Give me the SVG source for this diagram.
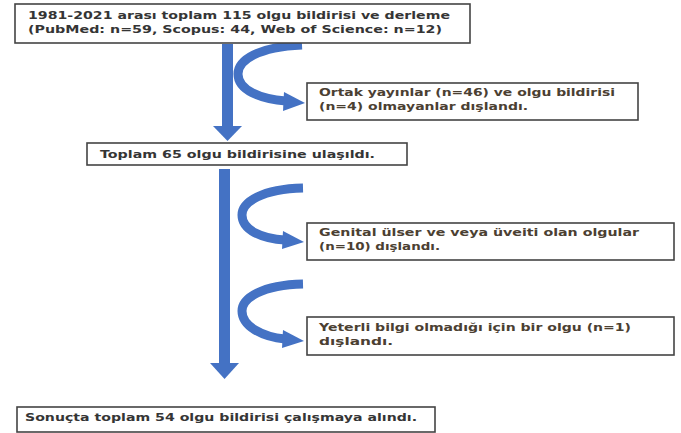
<svg xmlns="http://www.w3.org/2000/svg" width="681" height="433" viewBox="0 0 681 433">
<defs>
<style>
.box{fill:#ffffff;stroke:#444444;stroke-width:1.6}
.t{font-family:"DejaVu Sans","Liberation Sans",sans-serif;font-weight:bold;font-size:11px;fill:#353535}
.tb{fill:#4b4032}
.shaft{fill:#4472C4}
.curve{fill:none;stroke:#4472C4;stroke-width:9}
.head{fill:#4472C4}
</style>
</defs>
<rect width="681" height="433" fill="#ffffff"/>
<g id="connectors">
<rect class="shaft" x="222" y="44" width="11" height="83"/>
<polygon class="head" points="213,126 242,126 227.5,141"/>
<rect class="shaft" x="219" y="169" width="11" height="195"/>
<polygon class="head" points="210,363 239,363 224.5,379"/>
<path class="curve" d="M 302 45 C 258 47, 238 60, 238 74 C 238 90, 260 99, 286 101"/>
<polygon class="head" points="284,92 305,103 283,111"/>
<path class="curve" d="M 303 188 C 262 189, 242 202, 242 215 C 242 230, 262 239, 285 240"/>
<polygon class="head" points="283,231 304,242 282,249"/>
<path class="curve" d="M 303 284 C 262 285, 242 298, 242 311 C 242 326, 262 337, 285 339"/>
<polygon class="head" points="283,330 304,341 282,348"/>
</g>
<g id="n1">
<rect class="box" x="15" y="4" width="455" height="39"/>
<text class="t" x="28" y="19" textLength="422" lengthAdjust="spacingAndGlyphs">1981-2021 arası toplam 115 olgu bildirisi ve derleme</text>
<text class="t" x="28" y="33" textLength="414" lengthAdjust="spacingAndGlyphs">(PubMed: n=59, Scopus: 44, Web of Science: n=12)</text>
</g>
<g id="n2">
<rect class="box" x="307" y="83" width="331" height="37"/>
<text class="t tb" x="319" y="96" textLength="296" lengthAdjust="spacingAndGlyphs">Ortak yayınlar (n=46) ve olgu bildirisi</text>
<text class="t tb" x="319" y="110" textLength="209" lengthAdjust="spacingAndGlyphs">(n=4) olmayanlar dışlandı.</text>
</g>
<g id="n3">
<rect class="box" x="87" y="143" width="320" height="22"/>
<text class="t" x="100" y="158" textLength="275" lengthAdjust="spacingAndGlyphs">Toplam 65 olgu bildirisine ulaşıldı.</text>
</g>
<g id="n4">
<rect class="box" x="307" y="223" width="367" height="37"/>
<text class="t tb" x="319" y="236" textLength="320" lengthAdjust="spacingAndGlyphs">Genital ülser ve veya üveiti olan olgular</text>
<text class="t tb" x="319" y="250" textLength="121" lengthAdjust="spacingAndGlyphs">(n=10) dışlandı.</text>
</g>
<g id="n5">
<rect class="box" x="307" y="317" width="367" height="38"/>
<text class="t tb" x="319" y="331" textLength="312" lengthAdjust="spacingAndGlyphs">Yeterli bilgi olmadığı için bir olgu (n=1)</text>
<text class="t tb" x="319" y="345" textLength="74" lengthAdjust="spacingAndGlyphs">dışlandı.</text>
</g>
<g id="n6">
<rect class="box" x="17" y="407" width="418" height="25"/>
<text class="t" x="25" y="421" textLength="392" lengthAdjust="spacingAndGlyphs">Sonuçta toplam 54 olgu bildirisi çalışmaya alındı.</text>
</g>
</svg>
